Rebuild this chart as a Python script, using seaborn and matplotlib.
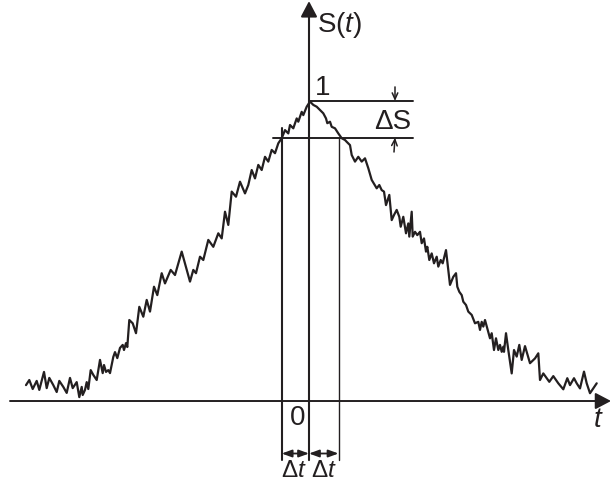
import matplotlib
matplotlib.use("Agg")
import matplotlib.pyplot as plt
import seaborn as sns
import pandas as pd

# Measured signal S(t), normalised to the peak value
t_vals = [
    -2.830, -2.797, -2.763, -2.723, -2.697, -2.650, -2.623, -2.597, -2.557, -2.523,
    -2.497, -2.457, -2.423, -2.390, -2.363, -2.323, -2.297, -2.273, -2.263, -2.240,
    -2.223, -2.207, -2.183, -2.157, -2.123, -2.090, -2.063, -2.050, -2.030, -2.007,
    -1.990, -1.957, -1.940, -1.917, -1.890, -1.863, -1.850, -1.830, -1.817, -1.797,
    -1.763, -1.730, -1.697, -1.657, -1.623, -1.590, -1.550, -1.517, -1.473, -1.440,
    -1.383, -1.340, -1.273, -1.223, -1.190, -1.157, -1.130, -1.090, -1.057, -1.007,
    -0.957, -0.907, -0.873, -0.840, -0.807, -0.773, -0.730, -0.690,
    -0.640, -0.607, -0.573, -0.540, -0.507, -0.473, -0.440, -0.407, -0.373, -0.340,
    -0.307, -0.273, -0.240, -0.207, -0.190, -0.157, -0.123, -0.107, -0.073, -0.057,
    -0.023, 0.010, 0.043, 0.077, 0.110, 0.143, 0.170, 0.183, 0.210, 0.227,
    0.260, 0.293, 0.327, 0.360, 0.377, 0.410, 0.427, 0.460, 0.493, 0.527,
    0.560, 0.593, 0.627,
    0.677, 0.703, 0.727, 0.750, 0.770, 0.803, 0.827, 0.850, 0.877, 0.903,
    0.917, 0.943, 0.970, 0.993, 1.003, 1.027, 1.037, 1.060, 1.083, 1.110,
    1.127, 1.150, 1.170, 1.183, 1.203, 1.227, 1.250, 1.277, 1.293, 1.317,
    1.337, 1.370, 1.410, 1.443, 1.470, 1.483, 1.503, 1.527, 1.543, 1.570,
    1.593, 1.627, 1.660, 1.693,
    1.710, 1.727, 1.743, 1.760, 1.783, 1.810, 1.827, 1.850, 1.870, 1.893,
    1.910, 1.927, 1.943, 1.950, 1.970, 1.993, 2.027, 2.050, 2.077, 2.103,
    2.127, 2.160, 2.210, 2.260, 2.293, 2.310, 2.343, 2.377, 2.403, 2.443,
    2.493, 2.543, 2.583, 2.610, 2.650, 2.677, 2.710, 2.750, 2.777, 2.810,
    2.843, 2.877,
]
s_vals = [
    0.053, 0.070, 0.040, 0.067, 0.037, 0.097, 0.043, 0.077, 0.053, 0.030,
    0.067, 0.047, 0.027, 0.077, 0.043, 0.063, 0.013, 0.047, 0.020, 0.037,
    0.063, 0.040, 0.103, 0.087, 0.070, 0.137, 0.093, 0.120, 0.097, 0.103,
    0.093, 0.147, 0.163, 0.143, 0.177, 0.187, 0.170, 0.193, 0.180, 0.270,
    0.259, 0.226, 0.314, 0.281, 0.337, 0.298, 0.381, 0.353, 0.426, 0.392,
    0.437, 0.420, 0.498, 0.437, 0.398, 0.437, 0.426, 0.481, 0.470, 0.537,
    0.514, 0.559, 0.542, 0.631, 0.587, 0.698, 0.681, 0.731,
    0.692, 0.720, 0.770, 0.742, 0.787, 0.770, 0.814, 0.798, 0.837, 0.826,
    0.859, 0.876, 0.903, 0.892, 0.920, 0.909, 0.942, 0.931, 0.964, 0.953,
    0.981, 0.998, 0.987, 0.981, 0.970, 0.959, 0.942, 0.926, 0.931, 0.914,
    0.909, 0.892, 0.876, 0.870, 0.864, 0.853, 0.820, 0.798, 0.814, 0.798,
    0.809, 0.776, 0.737,
    0.709, 0.720, 0.703, 0.698, 0.653, 0.687, 0.603, 0.620, 0.637, 0.614,
    0.581, 0.614, 0.559, 0.592, 0.548, 0.631, 0.548, 0.564, 0.553, 0.564,
    0.526, 0.542, 0.498, 0.514, 0.470, 0.492, 0.459, 0.481, 0.448, 0.470,
    0.459, 0.503, 0.387, 0.414, 0.426, 0.381, 0.364, 0.353, 0.331, 0.320,
    0.298, 0.287, 0.259, 0.264,
    0.237, 0.264, 0.248, 0.270, 0.242, 0.209, 0.226, 0.170, 0.209, 0.170,
    0.187, 0.164, 0.181, 0.164, 0.226, 0.170, 0.092, 0.170, 0.148, 0.187,
    0.137, 0.183, 0.126, 0.142, 0.159, 0.070, 0.092, 0.076, 0.064, 0.083,
    0.059, 0.039, 0.076, 0.053, 0.076, 0.059, 0.042, 0.098, 0.059, 0.026,
    0.042, 0.059,
]

# Level marks: peak value and the reduced level S = 1 - dS
s_peak = 1.0
s_level = 0.878
# Times where the signal falls to the reduced level
dt_left = -0.273
dt_right = 0.295

ink = "#231f20"

sns.set_style("white")
plt.rcParams["font.family"] = ["Liberation Sans", "DejaVu Sans"]
plt.rcParams["mathtext.fontset"] = "custom"
plt.rcParams["mathtext.rm"] = "Liberation Sans"
plt.rcParams["mathtext.it"] = "Liberation Sans:italic"

fig = plt.figure(figsize=(6.11, 4.83), dpi=100)
ax = fig.add_axes([0, 0, 1, 1])
ax.set_xlim(-3.09, 3.02)
ax.set_ylim(-0.2733, 1.3367)
ax.axis("off")

df = pd.DataFrame({"t": t_vals, "S": s_vals})
sns.lineplot(data=df, x="t", y="S", ax=ax, color=ink, linewidth=1.6,
             sort=False, estimator=None)

y_bottom = -0.197
fs = 20

# Axes with arrowheads
ax.annotate("", xy=(3.02, 0.0), xytext=(-2.99, 0.0),
            arrowprops=dict(arrowstyle="-|>,head_length=0.95,head_width=0.5",
                            mutation_scale=10, lw=1.4, color=ink,
                            shrinkA=0, shrinkB=0))
ax.annotate("", xy=(0.0, 1.333), xytext=(0.0, y_bottom),
            arrowprops=dict(arrowstyle="-|>,head_length=0.95,head_width=0.5",
                            mutation_scale=10, lw=1.5, color=ink,
                            shrinkA=0, shrinkB=0))

# Level lines
ax.plot([0.0, 1.04], [s_peak, s_peak], color=ink, lw=1.4)
ax.plot([-0.36, 1.04], [s_level, s_level], color=ink, lw=1.4)

# Vertical markers at the crossing times
ax.plot([dt_left, dt_left], [0.91, y_bottom], color=ink, lw=1.5)
ax.plot([dt_right, dt_right], [s_level, y_bottom], color=ink, lw=1.0)

# dS arrows
ax.annotate("", xy=(0.86, s_peak), xytext=(0.86, 1.047),
            arrowprops=dict(arrowstyle="->,head_length=0.45,head_width=0.2",
                            mutation_scale=10, lw=1.1, color=ink,
                            shrinkA=0, shrinkB=0))
ax.annotate("", xy=(0.86, s_level), xytext=(0.85, 0.83),
            arrowprops=dict(arrowstyle="->,head_length=0.45,head_width=0.2",
                            mutation_scale=10, lw=1.1, color=ink,
                            shrinkA=0, shrinkB=0))

# dt arrows
y_arr = -0.175
for a, b in [(dt_left, 0.0), (0.0, dt_right)]:
    ax.annotate("", xy=(b, y_arr), xytext=(a, y_arr),
                arrowprops=dict(arrowstyle="<|-|>,head_length=0.6,head_width=0.22",
                                mutation_scale=10, lw=1.3, color=ink,
                                shrinkA=0, shrinkB=0))

# Labels
ax.text(0.08, 1.253, r"$\mathrm{S(}t\mathrm{)}$", fontsize=fs, color=ink,
        ha="left", va="center")
ax.text(0.06, 1.043, "1", fontsize=fs, color=ink, ha="left", va="center")
ax.text(0.655, 0.93, "ΔS", fontsize=fs, color=ink, ha="left", va="center")
ax.text(-0.11, -0.055, "0", fontsize=fs, color=ink, ha="center", va="center")
ax.text(2.89, -0.063, "t", fontsize=fs, color=ink, ha="center", va="center",
        style="italic")
ax.text(-0.155, -0.252, r"$\mathrm{\Delta}t$", fontsize=17.5, color=ink,
        ha="center", va="baseline")
ax.text(0.145, -0.252, r"$\mathrm{\Delta}t$", fontsize=17.5, color=ink,
        ha="center", va="baseline")

fig.savefig("out.png", dpi=100)
